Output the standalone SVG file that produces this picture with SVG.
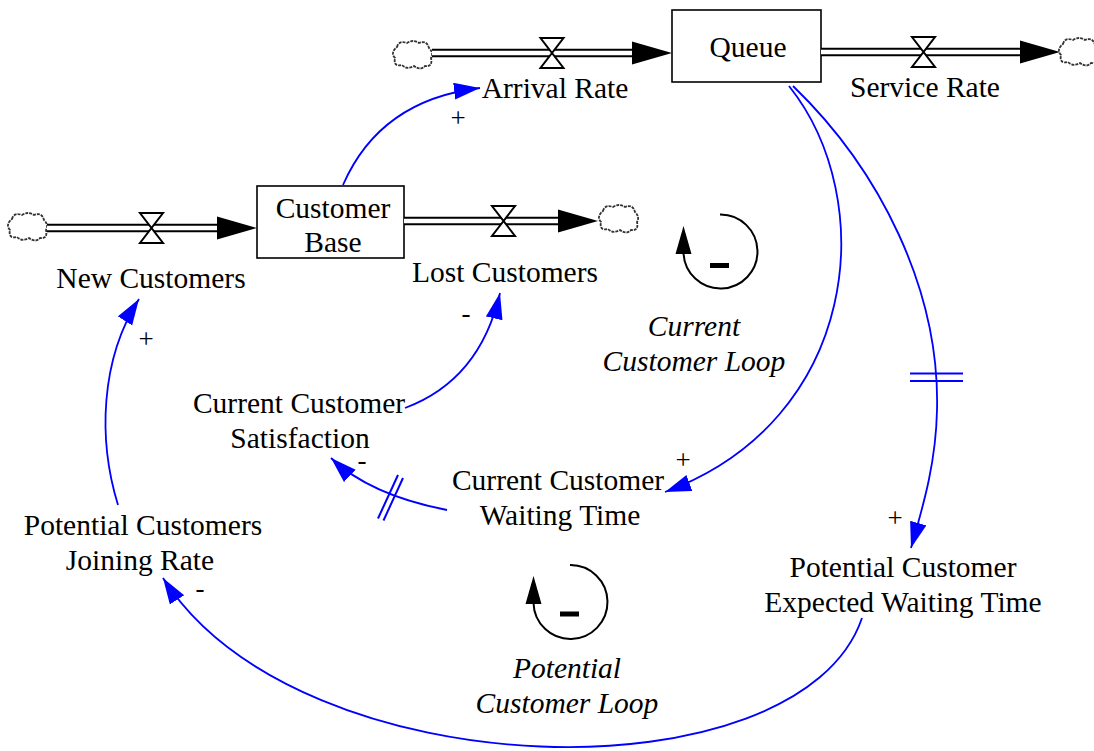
<svg xmlns="http://www.w3.org/2000/svg" width="1094" height="751" viewBox="0 0 1094 751">
<style>
  .t { font-family: "Liberation Serif", "Times New Roman", serif; font-size: 29.5px; fill: #000; text-anchor: middle; }
  .it { font-style: italic; }
  .sg { font-family: "Liberation Serif", "Times New Roman", serif; font-size: 27px; fill: #000; text-anchor: middle; }
  .box { fill: #fff; stroke: #000; stroke-width: 1.6; }
  .pipeo { stroke: #000; stroke-width: 8.5; fill: none; }
  .pipei { stroke: #fff; stroke-width: 4.5; fill: none; }
  .valve { fill: #fff; stroke: #000; stroke-width: 2; stroke-linejoin: miter; }
  .head { fill: #000; }
  .cloud { fill: #fff; stroke: #333; stroke-width: 1.8; stroke-dasharray: 3 1; }
  .link { fill: none; stroke: #0000ff; stroke-width: 1.8; }
  .delay { stroke: #0000ff; stroke-width: 2; fill: none; }
  .loop { fill: none; stroke: #000; stroke-width: 2; }
</style>
<defs>
  <marker id="arr" markerUnits="userSpaceOnUse" markerWidth="28" markerHeight="18" refX="26" refY="8.5" orient="auto">
    <path d="M0,0 L26,8.5 L0,17 Z" fill="#0000ff"/>
  </marker>
  <symbol id="cloud" overflow="visible">
    <path class="cloud" d="M-15,-8 Q-13,-15 -5,-12 Q1,-16 7,-12 Q15,-15 17,-7 Q22,-2 19,3 Q21,12 13,11 Q9,16 2,11 Q-5,15 -10,10 Q-19,12 -17,3 Q-22,-2 -15,-8 Z"/>
  </symbol>
</defs>
<rect width="1094" height="751" fill="#fff"/>

<!-- Stocks -->
<g id="queue">
  <rect class="box" x="672" y="10" width="149" height="72"/>
  <text class="t" x="748" y="57">Queue</text>
</g>
<g id="customer-base">
  <rect class="box" x="257" y="186" width="147" height="72"/>
  <text class="t" x="333" y="218">Customer</text>
  <text class="t" x="333" y="252">Base</text>
</g>

<!-- Flows -->
<g id="arrival-rate">
  <use href="#cloud" x="412" y="55"/>
  <line class="pipeo" x1="432" y1="53" x2="634" y2="53"/>
  <line class="pipei" x1="432" y1="53" x2="634" y2="53"/>
  <polygon class="head" points="632,41.5 672,53 632,64.5"/>
  <path class="valve" d="M540.5,38 L563.5,38 L540.5,68 L563.5,68 Z"/>
  <text class="t" x="555" y="98">Arrival Rate</text>
</g>
<g id="service-rate">
  <line class="pipeo" x1="821" y1="52" x2="1022" y2="52"/>
  <line class="pipei" x1="821" y1="52" x2="1022" y2="52"/>
  <polygon class="head" points="1020,40.5 1060,52 1020,63.5"/>
  <path class="valve" d="M912,37 L935,37 L912,67 L935,67 Z"/>
  <use href="#cloud" x="1078" y="52"/>
  <text class="t" x="925" y="97">Service Rate</text>
</g>
<g id="new-customers">
  <use href="#cloud" x="27" y="227"/>
  <line class="pipeo" x1="47" y1="228" x2="219" y2="228"/>
  <line class="pipei" x1="47" y1="228" x2="219" y2="228"/>
  <polygon class="head" points="217,216.5 257,228 217,239.5"/>
  <path class="valve" d="M140,213 L163,213 L140,243 L163,243 Z"/>
  <text class="t" x="151" y="288">New Customers</text>
</g>
<g id="lost-customers">
  <line class="pipeo" x1="404" y1="221" x2="560" y2="221"/>
  <line class="pipei" x1="404" y1="221" x2="560" y2="221"/>
  <polygon class="head" points="558,209.5 598,221 558,232.5"/>
  <path class="valve" d="M492,206 L515,206 L492,236 L515,236 Z"/>
  <use href="#cloud" x="618" y="219"/>
  <text class="t" x="505" y="282">Lost Customers</text>
</g>

<!-- Auxiliaries -->
<g id="current-customer-satisfaction">
  <text class="t" x="299" y="413">Current Customer</text>
  <text class="t" x="300" y="448">Satisfaction</text>
</g>
<g id="current-customer-waiting-time">
  <text class="t" x="558" y="490">Current Customer</text>
  <text class="t" x="560" y="525">Waiting Time</text>
</g>
<g id="potential-customers-joining-rate">
  <text class="t" x="143" y="535">Potential Customers</text>
  <text class="t" x="140" y="570">Joining Rate</text>
</g>
<g id="potential-customer-expected-waiting-time">
  <text class="t" x="903" y="577">Potential Customer</text>
  <text class="t" x="903" y="612">Expected Waiting Time</text>
</g>

<!-- Loops -->
<g id="current-customer-loop">
  <path class="loop" d="M720,214.5 A37,37 0 1,1 683.5,253"/>
  <polygon class="head" points="683.5,226 675.5,254 691.5,254"/>
  <rect x="710" y="263" width="19" height="5" fill="#000"/>
  <text class="t it" x="694" y="336">Current</text>
  <text class="t it" x="694" y="371">Customer Loop</text>
</g>
<g id="potential-customer-loop">
  <path class="loop" d="M570,565 A37,37 0 1,1 533.5,603"/>
  <polygon class="head" points="533.5,576 525.5,604 541.5,604"/>
  <rect x="560" y="611.5" width="19" height="5" fill="#000"/>
  <text class="t it" x="567" y="678">Potential</text>
  <text class="t it" x="567" y="713">Customer Loop</text>
</g>

<!-- Connectors -->
<g id="connectors">
  <path class="link" marker-end="url(#arr)" d="M343,185 Q380,100 480,88"/>
  <path class="link" marker-end="url(#arr)" d="M789,86 C880,200 860,420 665,492"/>
  <path class="link" marker-end="url(#arr)" d="M793,86 C880,170 940,290 937,410 C936,460 925,500 911,548"/>
  <line class="delay" x1="910" y1="373.5" x2="963" y2="373.5"/>
  <line class="delay" x1="910" y1="381" x2="963" y2="381"/>
  <path class="link" marker-end="url(#arr)" d="M447,510 Q370,495 331,458"/>
  <line class="delay" x1="378" y1="518.5" x2="398" y2="475"/>
  <line class="delay" x1="383.5" y1="520.5" x2="403" y2="478"/>
  <path class="link" marker-end="url(#arr)" d="M405,408 Q480,380 500,293"/>
  <path class="link" marker-end="url(#arr)" d="M118,505 C98,440 100,360 139,299"/>
  <path class="link" marker-end="url(#arr)" d="M862,618 C800,800 300,792 163,578"/>
  <text class="sg" x="458" y="127">+</text>
  <text class="sg" x="146" y="348">+</text>
  <text class="sg" x="466" y="322">-</text>
  <text class="sg" x="362" y="469">-</text>
  <text class="sg" x="683" y="469">+</text>
  <text class="sg" x="895" y="527">+</text>
  <text class="sg" x="200" y="597">-</text>
</g>
</svg>
